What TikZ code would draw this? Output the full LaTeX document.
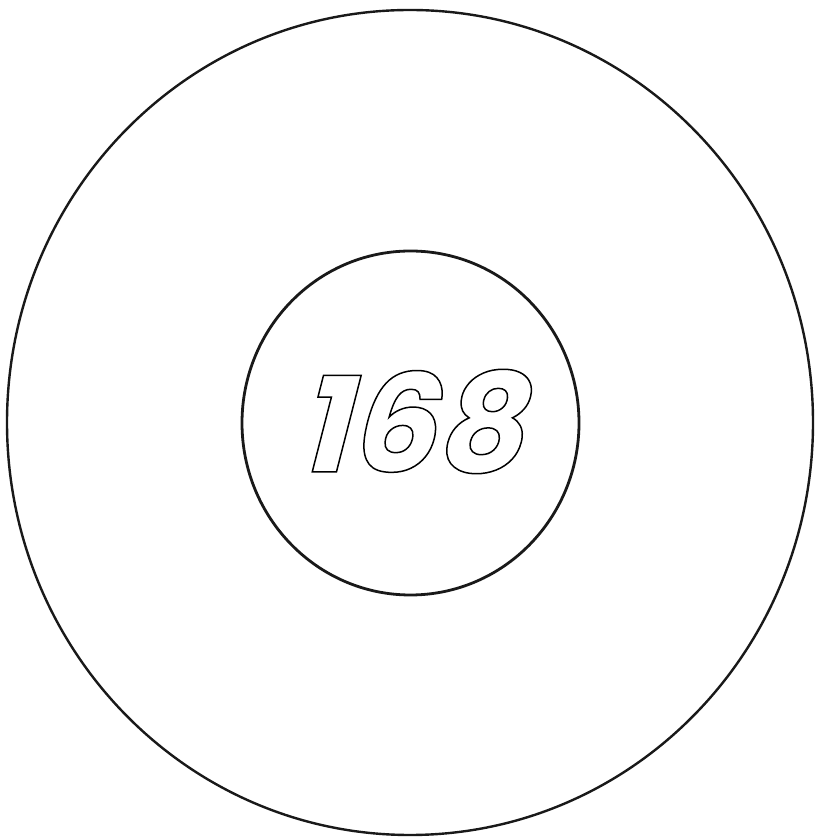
\documentclass[tikz,border=0pt]{standalone}
\usepackage{fontspec}
\newfontfamily\numfont[UprightFont={* Bold Italic},FakeSlant=0.08]{Poppins}
\newcommand{\outlinetext}[1]{\special{pdf:literal direct 1 Tr 1.5 w}#1\special{pdf:literal direct 0 Tr}}
\begin{document}
\begin{tikzpicture}[x=1pt,y=1pt,
  ring/.style={draw=black!90,line width=2.4pt}]
\useasboundingbox (0,0) rectangle (815,837);
\draw[ring] (410,414.5) ellipse [x radius=403, y radius=412.5];
\draw[ring,line width=2.8pt] (410.5,414) ellipse [x radius=168.5, y radius=172];
\node (num) at (415,415.5) {\fontsize{136}{136}\numfont\outlinetext{168}};
\end{tikzpicture}
\end{document}
